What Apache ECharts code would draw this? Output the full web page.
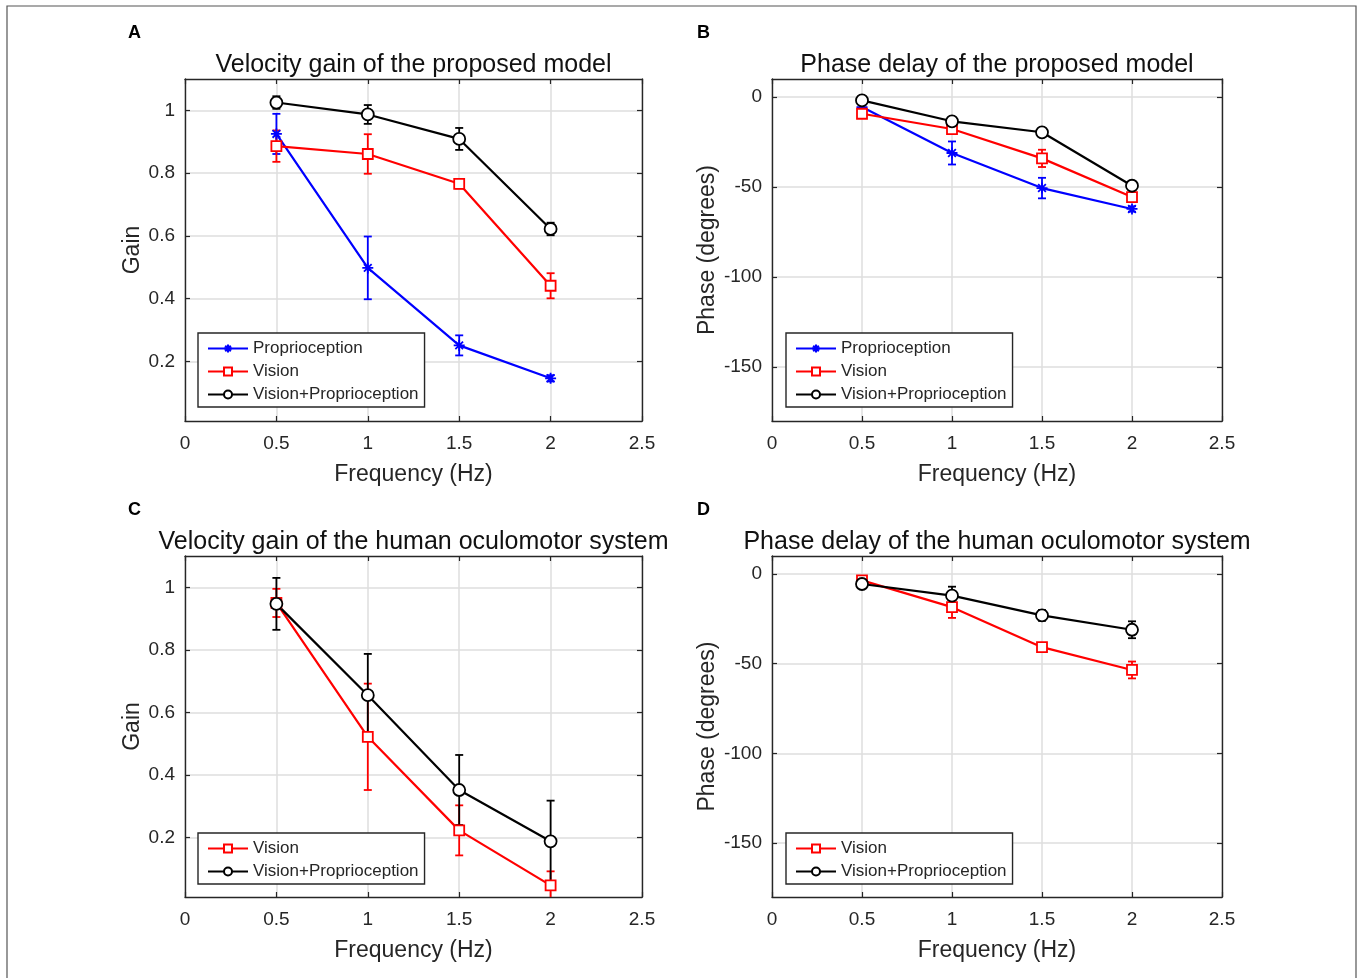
<!DOCTYPE html>
<html><head><meta charset="utf-8">
<script src="https://cdn.jsdelivr.net/npm/echarts@6/dist/echarts.min.js"></script>
<style>html,body{margin:0;padding:0;background:#fff}#c{width:1362px;height:978px}</style>
</head><body><div id="c"></div>
<script>
// ---- data ----
const freqs = [0.5, 1, 1.5, 2];
const xTicks = [0, 0.5, 1, 1.5, 2, 2.5];
const gainTicks = [0.2, 0.4, 0.6, 0.8, 1];
const phaseTicks = [-150, -100, -50, 0];

const A_prop = [0.925, 0.498, 0.251, 0.146];
const A_prop_err = [0.064, 0.10, 0.032, 0.01];
const A_vis = [0.886, 0.861, 0.766, 0.441];
const A_vis_err = [0.05, 0.063, 0.015, 0.04];
const A_vp = [1.025, 0.987, 0.909, 0.622];
const A_vp_err = [0.02, 0.03, 0.035, 0.02];

const B_prop = [-5.6, -31.1, -50.6, -62.2];
const B_prop_err = [1.5, 6.4, 5.7, 1.5];
const B_vis = [-9.3, -17.8, -34.1, -55.6];
const B_vis_err = [1.5, 1.5, 4.8, 2];
const B_vp = [-1.9, -13.5, -19.6, -49.3];
const B_vp_err = [1.5, 1.5, 1.5, 2];

const C_vis = [0.95, 0.522, 0.223, 0.047];
const C_vis_err = [0.045, 0.17, 0.08, 0.045];
const C_vp = [0.947, 0.655, 0.352, 0.188];
const C_vp_err = [0.083, 0.132, 0.112, 0.13];

const D_vis = [-3.6, -18.5, -40.8, -53.5];
const D_vis_err = [1.5, 6, 1.5, 4.7];
const D_vp = [-5.6, -12.1, -23.1, -31.1];
const D_vp_err = [1.5, 5, 3, 4.7];

const titles = ['Velocity gain of the proposed model', 'Phase delay of the proposed model',
  'Velocity gain of the human oculomotor system', 'Phase delay of the human oculomotor system'];
const letters = ['A', 'B', 'C', 'D'];

// ---- styles ----
const FONT = 'Liberation Sans, Arial, Helvetica, sans-serif';
const TXT = '#262626';
const STY = {
  'Proprioception': {color: '#0000ff', symbol: 'path://M0,-10L0,10M-10,0L10,0M-7,-7L7,7M-7,7L7,-7', size: 11, fill: '#0000ff'},
  'Vision': {color: '#ff0000', symbol: 'rect', size: 10, fill: '#ffffff'},
  'Vision+Proprioception': {color: '#000000', symbol: 'circle', size: 12, fill: '#ffffff'}
};

const panels = [
  {grid: {left: 185, top: 79, width: 457, height: 342}, y: [0.01, 1.1], yt: gainTicks, yname: 'Gain',
   series: [['Proprioception', A_prop, A_prop_err], ['Vision', A_vis, A_vis_err], ['Vision+Proprioception', A_vp, A_vp_err]],
   legend: {left: 198, top: 333}},
  {grid: {left: 772, top: 79, width: 450, height: 342}, y: [-180, 10], yt: phaseTicks, yname: 'Phase (degrees)',
   series: [['Proprioception', B_prop, B_prop_err], ['Vision', B_vis, B_vis_err], ['Vision+Proprioception', B_vp, B_vp_err]],
   legend: {left: 786, top: 333}},
  {grid: {left: 185, top: 556, width: 457, height: 341}, y: [0.01, 1.1], yt: gainTicks, yname: 'Gain',
   series: [['Vision', C_vis, C_vis_err], ['Vision+Proprioception', C_vp, C_vp_err]],
   legend: {left: 198, top: 833}},
  {grid: {left: 772, top: 556, width: 450, height: 341}, y: [-180, 10], yt: phaseTicks, yname: 'Phase (degrees)',
   series: [['Vision', D_vis, D_vis_err], ['Vision+Proprioception', D_vp, D_vp_err]],
   legend: {left: 786, top: 833}}
];

const option = {
  animation: false,
  backgroundColor: '#ffffff',
  textStyle: {fontFamily: FONT},
  grid: [], xAxis: [], yAxis: [], series: [], legend: [], title: [],
  graphic: [{type: 'rect', shape: {x: 7, y: 6, width: 1349, height: 990}, style: {fill: 'none', stroke: '#555', lineWidth: 1.2}, silent: true}]
};

function errRender(color) {
  return function (params, api) {
    const x = api.value(0), lo = api.value(1), hi = api.value(2);
    const p1 = api.coord([x, hi]), p2 = api.coord([x, lo]);
    const w = 4;
    const st = {stroke: color, lineWidth: 1.8};
    return {type: 'group', children: [
      {type: 'line', shape: {x1: p1[0], y1: p1[1], x2: p2[0], y2: p2[1]}, style: st},
      {type: 'line', shape: {x1: p1[0] - w, y1: p1[1], x2: p1[0] + w, y2: p1[1]}, style: st},
      {type: 'line', shape: {x1: p2[0] - w, y1: p2[1], x2: p2[0] + w, y2: p2[1]}, style: st}
    ]};
  };
}

const AX_LINE = {show: true, onZero: false, lineStyle: {color: '#262626', width: 1.4}};
const AX_TICK = {show: true, inside: true, length: 5, lineStyle: {color: '#262626', width: 1.2}};

panels.forEach((p, i) => {
  option.grid.push(Object.assign({show: false, containLabel: false}, p.grid));
  const xi = option.xAxis.length, yi = option.yAxis.length;
  const splitLine = {show: true, lineStyle: {color: '#dedede', width: 1.5}};
  option.xAxis.push({type: 'value', gridIndex: i, min: 0, max: 2.5, interval: 0.5, position: 'bottom',
    name: 'Frequency (Hz)', nameLocation: 'middle', nameGap: 42,
    nameTextStyle: {fontSize: 23, color: TXT, fontFamily: FONT},
    axisLine: AX_LINE, axisTick: AX_TICK,
    axisLabel: {fontSize: 19, color: TXT, margin: 13, fontFamily: FONT, formatter: v => String(v)},
    splitLine: splitLine});
  option.xAxis.push({type: 'value', gridIndex: i, min: 0, max: 2.5, interval: 0.5, position: 'top',
    axisLine: AX_LINE, axisTick: AX_TICK,
    axisLabel: {show: false}, splitLine: {show: false}});
  option.yAxis.push({type: 'value', gridIndex: i, min: p.y[0], max: p.y[1], position: 'left',
    name: p.yname, nameLocation: 'middle', nameGap: i % 2 ? 53 : 41, nameRotate: 90,
    nameTextStyle: {fontSize: 23, color: TXT, fontFamily: FONT},
    axisLine: AX_LINE,
    axisTick: Object.assign({customValues: p.yt}, AX_TICK),
    axisLabel: {fontSize: 19, color: TXT, margin: 10, fontFamily: FONT, customValues: p.yt, formatter: v => String(v)},
    splitLine: splitLine});
  option.yAxis.push({type: 'value', gridIndex: i, min: p.y[0], max: p.y[1], position: 'right',
    axisLine: AX_LINE,
    axisTick: Object.assign({customValues: p.yt}, AX_TICK),
    axisLabel: {show: false}, splitLine: {show: false}});

  const names = [];
  p.series.forEach(([name, vals, errs]) => {
    const s = STY[name];
    names.push(name);
    option.series.push({type: 'custom', xAxisIndex: xi, yAxisIndex: yi, silent: true, clip: true, z: 3,
      data: freqs.map((f, k) => [f, vals[k] - errs[k], vals[k] + errs[k]]),
      encode: {x: 0, y: [1, 2]}, renderItem: errRender(s.color)});
    option.series.push({type: 'line', name: name, xAxisIndex: xi, yAxisIndex: yi, z: 4,
      data: freqs.map((f, k) => [f, vals[k]]),
      symbol: s.symbol, symbolSize: s.size, showSymbol: true,
      lineStyle: {color: s.color, width: 2.2},
      itemStyle: {color: s.fill, borderColor: s.color, borderWidth: 1.8}});
  });
  option.legend.push({orient: 'vertical', left: p.legend.left, top: p.legend.top, data: names,
    itemWidth: 40, itemHeight: 10, itemGap: 4, padding: [6, 6, 3, 9],
    borderColor: '#262626', borderWidth: 1.4, backgroundColor: '#fff',
    textStyle: {fontSize: 17, color: TXT, fontFamily: FONT, lineHeight: 19}, selectedMode: false});
  const cx = p.grid.left + p.grid.width / 2 - 5;
  option.title.push({text: titles[i], left: cx, textAlign: 'center', top: p.grid.top - 31,
    textStyle: {fontSize: 25, fontWeight: 'normal', color: '#111', fontFamily: FONT}});
  option.title.push({text: letters[i], left: i % 2 ? 692 : 123, top: p.grid.top - 60,
    textStyle: {fontSize: 18, fontWeight: 'bold', color: '#000', fontFamily: FONT}});
});

const chart = echarts.init(document.getElementById('c'), null, {renderer: 'canvas'});
chart.setOption(option);
</script></body></html>
